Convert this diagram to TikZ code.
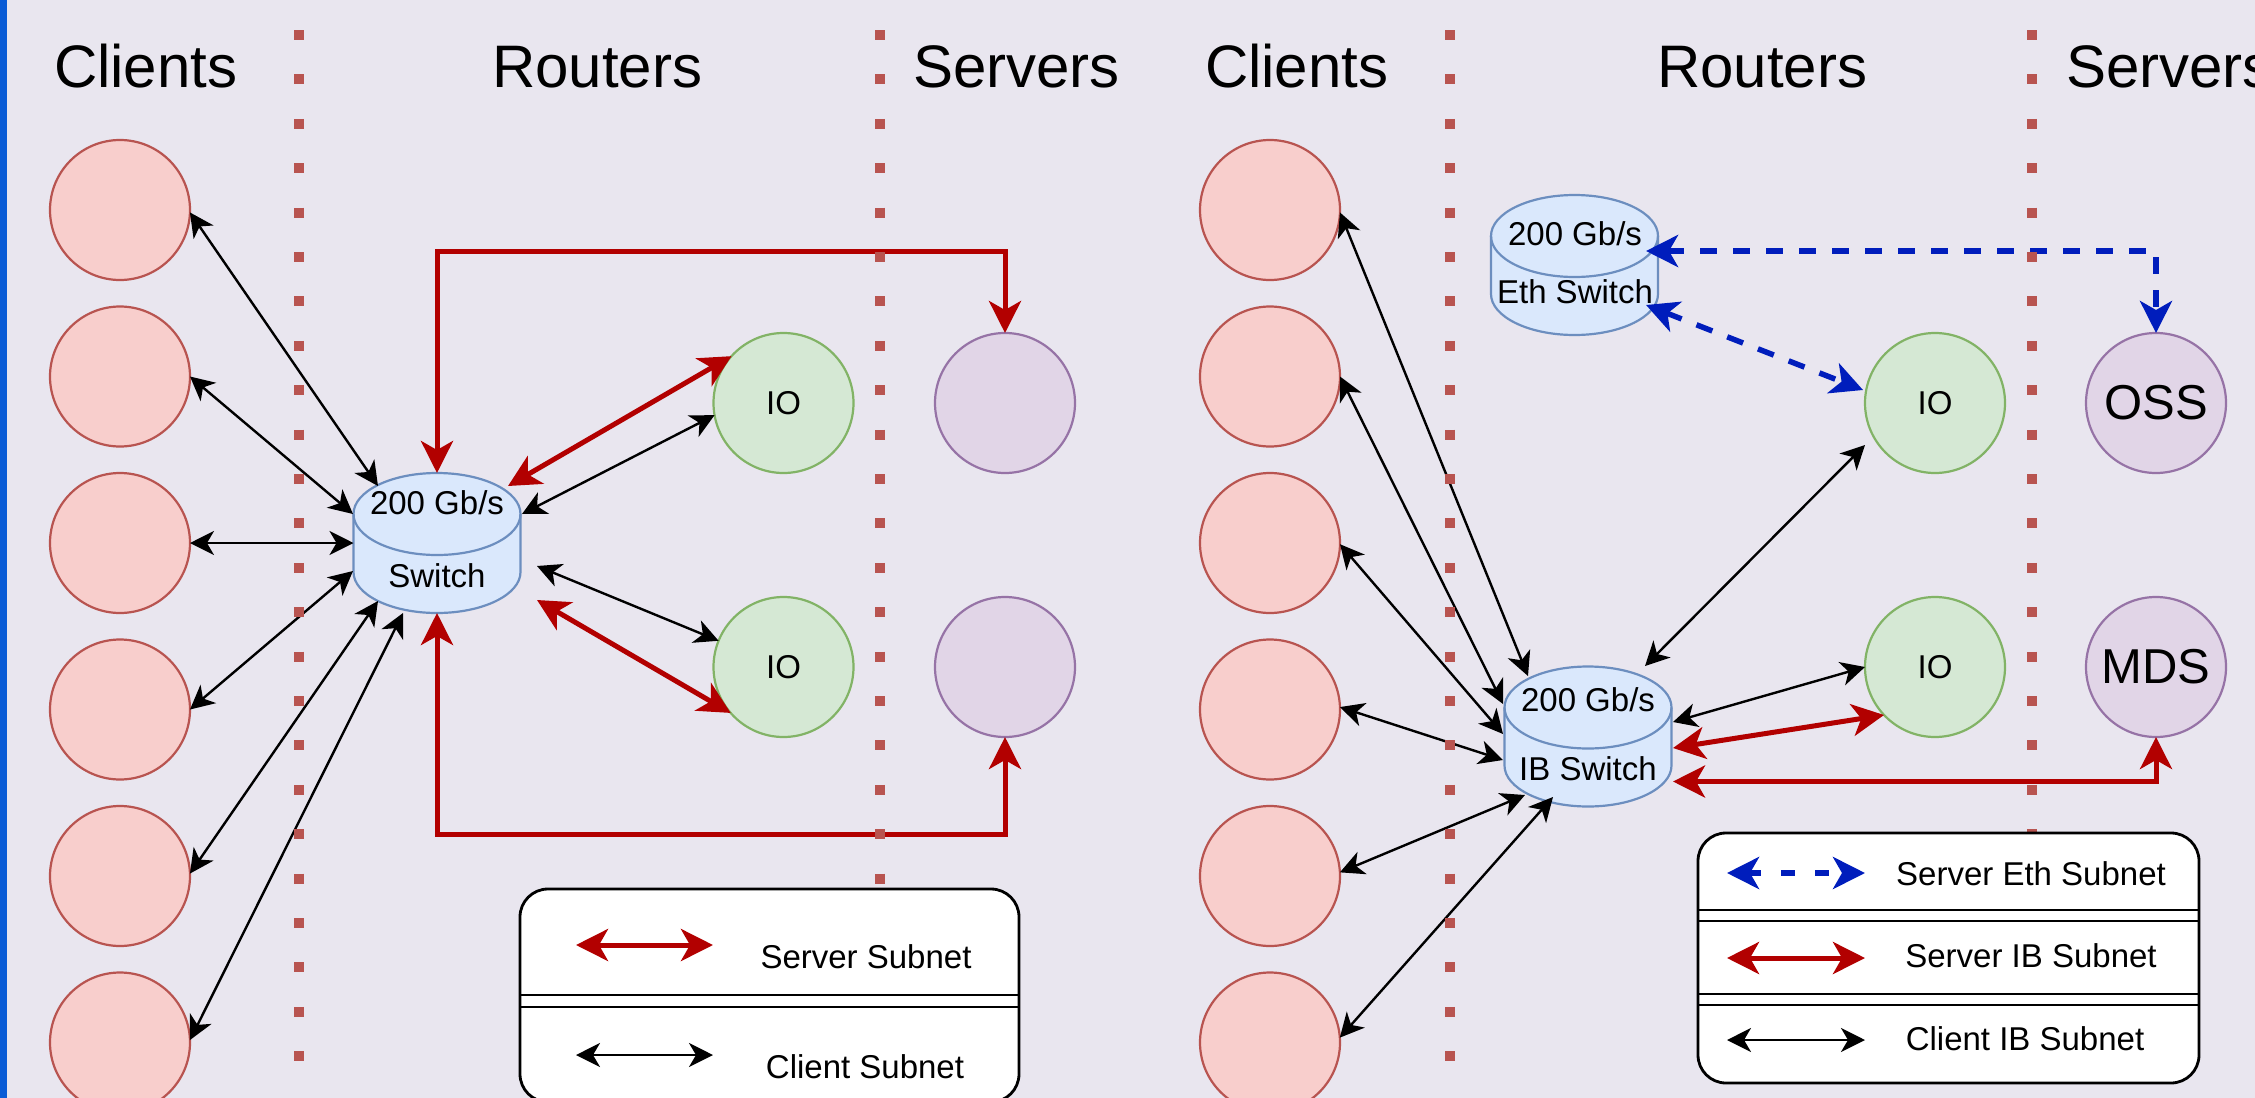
\documentclass[tikz,border=0pt]{standalone}
\usepackage{fontspec}
\setmainfont{Liberation Sans}
\usetikzlibrary{arrows.meta,calc,shapes.geometric}
\definecolor{bgc}{HTML}{E9E6EF}
\definecolor{stripec}{HTML}{0A5CD6}
\definecolor{clfill}{HTML}{F8CECC}
\definecolor{cldraw}{HTML}{B85450}
\definecolor{iofill}{HTML}{D5E8D4}
\definecolor{iodraw}{HTML}{82B366}
\definecolor{svfill}{HTML}{E1D5E7}
\definecolor{svdraw}{HTML}{9673A6}
\definecolor{swfill}{HTML}{DAE8FC}
\definecolor{swdraw}{HTML}{6C8EBF}
\definecolor{redl}{HTML}{B20000}
\definecolor{bluel}{HTML}{001DBC}
\definecolor{sepc}{HTML}{B85450}

\newcommand\drawcyl[1]{%
  \filldraw[swbody] ($(#1.north west)+(0,41)$) -- ($(#1.south west)+(0,-41)$)
    arc[start angle=180,end angle=360,x radius=83.5pt,y radius=41pt]
    -- ($(#1.north east)+(0,41)$)
    arc[start angle=0,end angle=180,x radius=83.5pt,y radius=41pt] -- cycle;
  \draw[swbody,fill=none] ($(#1.north west)+(0,41)$)
    arc[start angle=180,end angle=360,x radius=83.5pt,y radius=41pt];
}

\tikzset{
  every node/.style={inner sep=0pt, outer sep=0pt},
  client/.style={circle, minimum size=140pt, fill=clfill, draw=cldraw, line width=2.2pt},
  ionode/.style={circle, minimum size=140pt, fill=iofill, draw=iodraw, line width=2.2pt, font=\fontsize{33}{40}\selectfont},
  srv/.style={circle, minimum size=140pt, fill=svfill, draw=svdraw, line width=2.2pt, font=\fontsize{49}{58}\selectfont},
  swnode/.style={rectangle, minimum width=167pt, minimum height=140pt},
  swbody/.style={fill=swfill, draw=swdraw, line width=2.2pt},
  title/.style={anchor=base west, font=\fontsize{60}{72}\selectfont},
  lbl/.style={anchor=base, font=\fontsize{33}{40}\selectfont},
  blk/.style={draw=black, line width=2.4pt, {Stealth[length=24pt,width=24pt,inset=7pt]}-{Stealth[length=24pt,width=24pt,inset=7pt]}},
  redc/.style={draw=redl, line width=5pt, {Stealth[length=32pt,width=32pt,inset=9pt]}-{Stealth[length=32pt,width=32pt,inset=9pt]}},
  bluc/.style={draw=bluel, line width=5.5pt, dash pattern=on 17pt off 16pt, {Stealth[length=32pt,width=32pt,inset=9pt]}-{Stealth[length=32pt,width=32pt,inset=9pt]}},
  blucleg/.style={bluc, dash pattern=on 14pt off 20pt, dash phase=1pt},
  sepline/.style={draw=sepc, line width=10pt, dash pattern=on 10pt off 34.4pt},
  legbox/.style={rectangle, rounded corners=28pt, fill=white, draw=black, line width=2.8pt},
  legline/.style={draw=black, line width=2.8pt},
}

\begin{document}
\begin{tikzpicture}[x=1pt,y=-1pt]
\useasboundingbox (0,0) rectangle (2255,1098);
\clip (0,0) rectangle (2255,1098);
\fill[bgc] (0,0) rectangle (2255,1098);
\fill[stripec] (0,0) rectangle (7,1098);

% ---------- titles ----------
\node[title] (tL1) at (54,87) {Clients};
\node[title] (tL2) at (492,87) {Routers};
\node[title] (tL3) at (913,87) {Servers};
\node[title] (tR1) at (1205,87) {Clients};
\node[title] (tR2) at (1657,87) {Routers};
\node[title] (tR3) at (2066,87) {Servers};

% ---------- left panel nodes ----------
\foreach \i/\y in {1/210,2/376.5,3/543,4/709.5,5/876,6/1042.5}{
  \node[client] (cL\i) at (120,\y) {};
  \node[client] (cR\i) at (1270,\y) {};
}
\node[ionode] (ioL1) at (783.5,403) {IO};
\node[ionode] (ioL2) at (783.5,667) {IO};
\node[srv] (svL1) at (1005,403) {};
\node[srv] (svL2) at (1005,667) {};
\node[swnode] (swL) at (437,543) {};
\drawcyl{swL}
\node[lbl] (swLt1) at (437,514) {200 Gb/s};
\node[lbl] (swLt2) at (437,587) {Switch};

% ---------- right panel nodes ----------
\node[ionode] (ioR1) at (1935,403) {IO};
\node[ionode] (ioR2) at (1935,667) {IO};
\node[srv] (oss) at (2156,403) {OSS};
\node[srv] (mds) at (2156,667) {MDS};
\node[swnode] (ethR) at (1574.5,265) {};
\drawcyl{ethR}
\node[lbl] (ethRt1) at (1575,245) {200 Gb/s};
\node[lbl] (ethRt2) at (1575,303) {Eth Switch};
\node[swnode] (ibR) at (1588,736.5) {};
\drawcyl{ibR}
\node[lbl] (ibRt1) at (1588,711) {200 Gb/s};
\node[lbl] (ibRt2) at (1588,780) {IB Switch};

% ---------- left panel edges ----------
\draw[blk] (cL1.358) -- ($(swL)+(-59,-57)$);
\draw[blk] (cL2.east) -- ($(swL)+(-84,-29)$);
\draw[blk] (cL3.east) -- (swL.west);
\draw[blk] (cL4.east) -- ($(swL)+(-84,28)$);
\draw[blk] (cL5.2) -- ($(swL)+(-59,58)$);
\draw[blk] (cL6.2) -- ($(swL)+(-34,70)$);
\draw[blk] ($(swL)+(85,-29)$) -- (ioL1.190);
\draw[blk] ($(swL)+(100,23)$) -- (ioL2.158.5);
\draw[redc] ($(swL)+(71,-57)$) -- (ioL1.138);
\draw[redc] ($(swL)+(100,57)$) -- (ioL2.221.4);
\draw[redc] (swL.north) -- ++(0,-222) -| (svL1.north);
\draw[redc] (swL.south) -- ++(0,221) -| (svL2.south);

% ---------- right panel edges ----------
\draw[blk] (cR1.358) -- ($(ibR)+(-60,-60.5)$);
\draw[blk] (cR2.east) -- ($(ibR)+(-85,-32.5)$);
\draw[blk] (cR3.359) -- ($(ibR)+(-85,-2.5)$);
\draw[blk] (cR4.2) -- ($(ibR)+(-85,23.5)$);
\draw[blk] (cR5.3) -- ($(ibR)+(-63,58.5)$);
\draw[blk] (cR6.4) -- ($(ibR)+(-35,60.5)$);
\draw[blk] ($(ibR)+(57,-70.5)$) -- ($(ioR1)+(-70,42)$);
\draw[blk] ($(ibR)+(85,-14.5)$) -- (ioR2.west);
\draw[redc] ($(ibR)+(85,11.5)$) -- ($(ioR2)+(-51,48)$);
\draw[redc] ($(ibR)+(85,45)$) -| (mds.south);
\draw[bluc] ($(ethR)+(71.5,-14)$) -| (oss.north);
\draw[bluc] ($(ethR)+(71.5,40)$) -- ($(ioR1)+(-72,-13)$);

% ---------- separators ----------
\draw[sepline] (299,30) -- (299,1061);
\draw[sepline] (880,30) -- (880,884);
\draw[sepline] (1450,30) -- (1450,1061);
\draw[sepline] (2032,30) -- (2032,839);

% ---------- left legend ----------
\node[legbox, minimum width=499pt, minimum height=213pt] (lgL) at (769.5,995.5) {};
\draw[legline] ($(lgL.north west)+(0,106)$) -- ($(lgL.north east)+(0,106)$);
\draw[legline] ($(lgL.north west)+(0,118)$) -- ($(lgL.north east)+(0,118)$);
\coordinate (lgLa1) at (576,945);
\coordinate (lgLb1) at (713,945);
\coordinate (lgLa2) at (576,1055);
\coordinate (lgLb2) at (713,1055);
\draw[redc] (lgLa1) -- (lgLb1);
\draw[blk] (lgLa2) -- (lgLb2);
\node[lbl] (lgLt1) at (866,968) {Server Subnet};
\node[lbl] (lgLt2) at (865,1078) {Client Subnet};

% ---------- right legend ----------
\node[legbox, minimum width=501pt, minimum height=250pt] (lgR) at (1948.5,958) {};
\draw[legline] ($(lgR.north west)+(0,77)$) -- ($(lgR.north east)+(0,77)$);
\draw[legline] ($(lgR.north west)+(0,88)$) -- ($(lgR.north east)+(0,88)$);
\draw[legline] ($(lgR.north west)+(0,161)$) -- ($(lgR.north east)+(0,161)$);
\draw[legline] ($(lgR.north west)+(0,172)$) -- ($(lgR.north east)+(0,172)$);
\coordinate (lgRa1) at (1727,873);
\coordinate (lgRb1) at (1865,873);
\coordinate (lgRa2) at (1727,958);
\coordinate (lgRb2) at (1865,958);
\coordinate (lgRa3) at (1727,1040);
\coordinate (lgRb3) at (1865,1040);
\draw[blucleg] (lgRa1) -- (lgRb1);
\draw[redc] (lgRa2) -- (lgRb2);
\draw[blk] (lgRa3) -- (lgRb3);
\node[lbl] (lgRt1) at (2031,885) {Server Eth Subnet};
\node[lbl] (lgRt2) at (2031,967) {Server IB Subnet};
\node[lbl] (lgRt3) at (2025,1050) {Client IB Subnet};
\end{tikzpicture}
\end{document}
